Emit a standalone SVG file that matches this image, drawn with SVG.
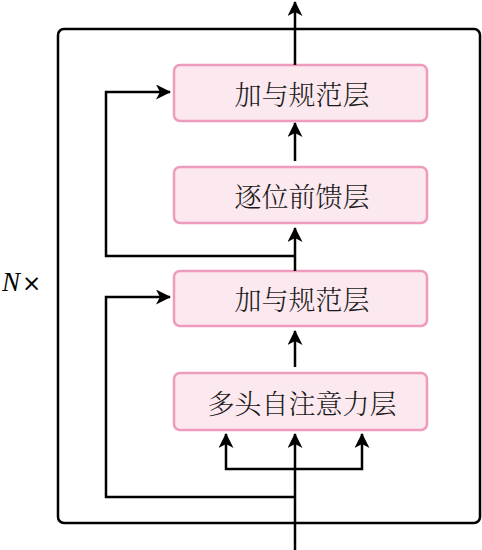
<svg xmlns="http://www.w3.org/2000/svg" width="482" height="550" viewBox="0 0 482 550">
<defs>
<marker id="ah" viewBox="0 0 15 15" refX="14" refY="7.5" markerWidth="15" markerHeight="15" markerUnits="userSpaceOnUse" orient="auto">
<path d="M0,0 L15,7.5 L0,15 L4,7.5 Z" fill="#000"/>
</marker>
<style>
.box{fill:#fce8ef;stroke:#ee9cbd;stroke-width:2.5}
.lbl{font-family:"Noto Serif CJK SC","Noto Sans CJK SC",serif;font-size:27px;font-weight:300;fill:#1a1a1a;text-anchor:middle;dominant-baseline:central}
.ln{fill:none;stroke:#000;stroke-width:2.5}
</style>
</defs>
<rect x="58" y="29" width="422" height="494" rx="6" fill="none" stroke="#000" stroke-width="2.5"/>
<text x="2" y="291" font-family="Liberation Serif,serif" font-size="27" font-style="italic">N</text>
<text x="22" y="291" font-family="DejaVu Sans,sans-serif" font-size="23">×</text>
<g id="n1"><rect class="box" x="174" y="65" width="253" height="56" rx="6"/><text class="lbl" x="302" y="93">加与规范层</text></g>
<g id="n2"><rect class="box" x="174" y="167" width="253" height="56" rx="6"/><text class="lbl" x="302" y="195">逐位前馈层</text></g>
<g id="n3"><rect class="box" x="174" y="271" width="253" height="55" rx="6"/><text class="lbl" x="302" y="298">加与规范层</text></g>
<g id="n4"><rect class="box" x="174" y="373" width="253" height="57" rx="6"/><text class="lbl" x="302" y="402">多头自注意力层</text></g>
<g id="connectors">
<path class="ln" d="M295,65 V2" marker-end="url(#ah)"/>
<path class="ln" d="M295,161 V123" marker-end="url(#ah)"/>
<path class="ln" d="M295,271 V228" marker-end="url(#ah)"/>
<path class="ln" d="M295,367 V331" marker-end="url(#ah)"/>
<path class="ln" d="M295,256 H106 V92 H170" marker-end="url(#ah)"/>
<path class="ln" d="M295,550 V434" marker-end="url(#ah)"/>
<path class="ln" d="M295,497 H106 V297 H170" marker-end="url(#ah)"/>
<path class="ln" d="M295,469 H226 V434" marker-end="url(#ah)"/>
<path class="ln" d="M295,469 H362 V434" marker-end="url(#ah)"/>
</g>
</svg>
